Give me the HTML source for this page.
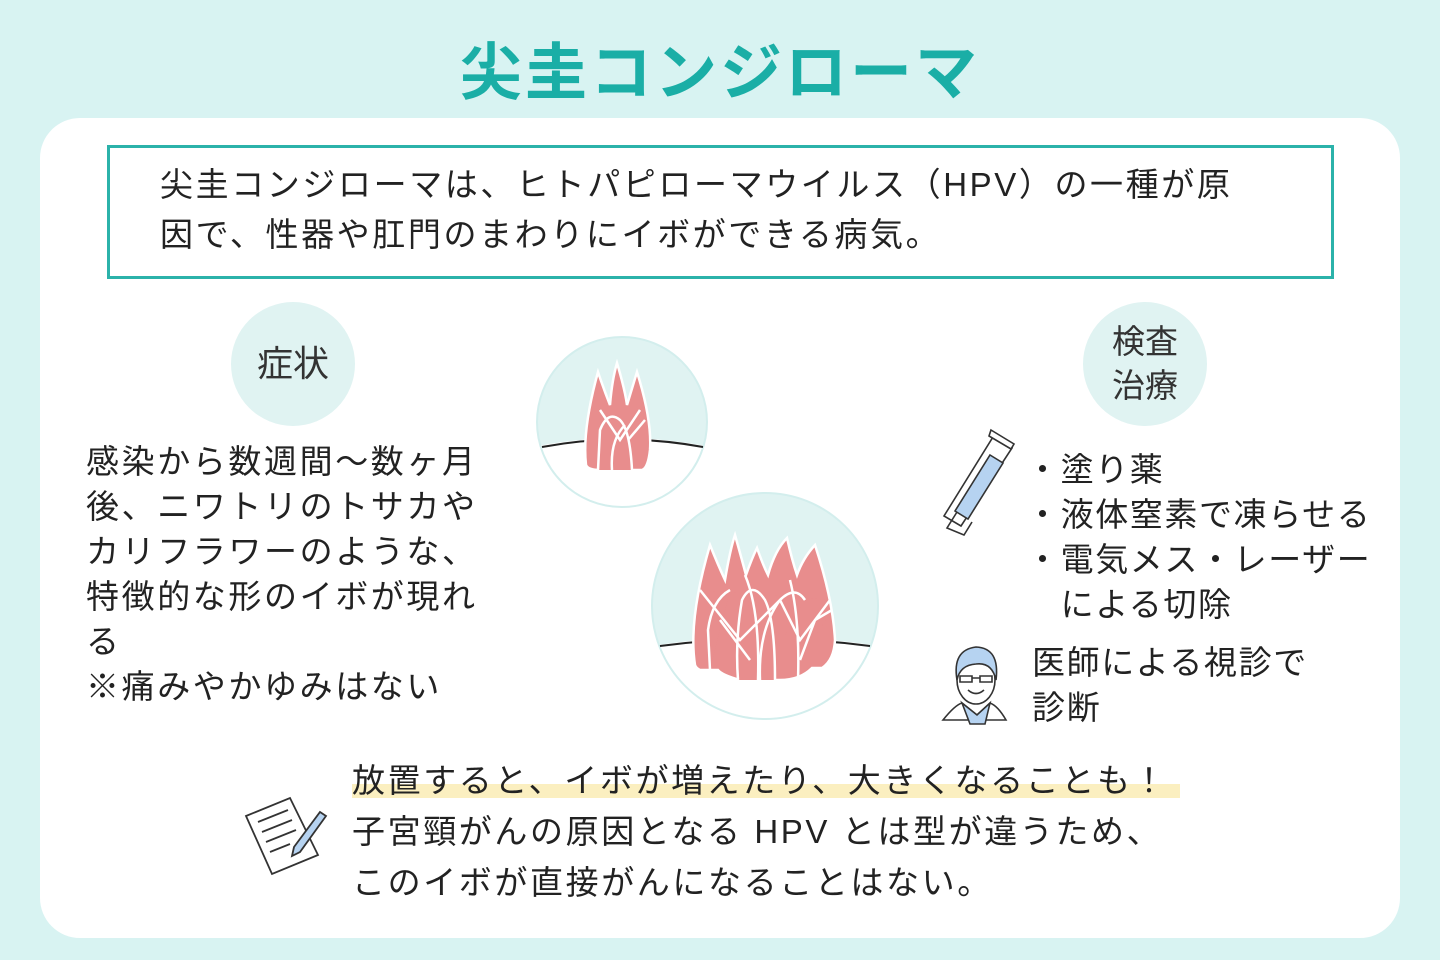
<!DOCTYPE html>
<html><head><meta charset="utf-8"><style>
body{margin:0;width:1440px;height:960px;background:#d8f3f2;position:relative;overflow:hidden;font-family:"Liberation Sans","Noto Sans CJK JP",sans-serif;color:#222}
.t{position:absolute;white-space:nowrap}
.title{left:0;width:1440px;text-align:center;top:22px;font-size:62px;font-weight:bold;color:#1aaea6;letter-spacing:3px}
.panel{position:absolute;left:40px;top:118px;width:1360px;height:820px;background:#fff;border-radius:40px}
.box{position:absolute;left:107px;top:145px;width:1221px;height:128px;border:3px solid #2bb2aa}
.circ{position:absolute;border-radius:50%;background:#e0f3f2;text-align:center;color:#333}
.body{font-size:33px;line-height:45px;letter-spacing:2.6px}
</style></head><body>
<div class="t title">尖圭コンジローマ</div>
<div class="panel"></div>
<div class="box"></div>
<div class="t body" style="left:160px;top:160px;line-height:50px">尖圭コンジローマは、ヒトパピローマウイルス（HPV）の一種が原<br>因で、性器や肛門のまわりにイボができる病気。</div>
<div class="circ" style="left:231px;top:302px;width:124px;height:124px;font-size:36px;line-height:124px">症状</div>
<div class="circ" style="left:1083px;top:302px;width:124px;height:124px;font-size:33px;line-height:44px;padding-top:18px;box-sizing:border-box">検査<br>治療</div>
<div class="t body" style="left:86px;top:439px">感染から数週間〜数ヶ月<br>後、ニワトリのトサカや<br>カリフラワーのような、<br>特徴的な形のイボが現れ<br>る<br>※痛みやかゆみはない</div>
<div class="t body" style="left:1026px;top:447px;letter-spacing:1.6px">・塗り薬<br>・液体窒素で凍らせる<br>・電気メス・レーザー<br>　による切除</div>
<div class="t body" style="left:1032px;top:640px;letter-spacing:1.6px">医師による視診で<br>診断</div>
<div style="position:absolute;left:352px;top:784px;width:828px;height:14px;background:#fbefc0"></div>
<div class="t body" style="left:352px;top:755px;line-height:51px">放置すると、イボが増えたり、大きくなることも！<br>子宮頸がんの原因となる HPV とは型が違うため、<br>このイボが直接がんになることはない。</div>
<svg style="position:absolute;left:0;top:0" width="1440" height="960">
<defs><clipPath id="c1"><circle cx="622" cy="422" r="84"/></clipPath><clipPath id="c2"><circle cx="765" cy="606" r="112"/></clipPath></defs>
<circle cx="622" cy="422" r="85" fill="#e0f3f2" stroke="#d3eeed" stroke-width="2"/>
<path d="M538 446 Q622 430 706 446 L706 520 L538 520Z" fill="#fff" clip-path="url(#c1)"/>
<path d="M542 447 Q622 432 703 447" stroke="#222" stroke-width="2" fill="none"/>
<g fill="#e88d8d" stroke="#fff" stroke-width="2.5">
<path d="M586 465 Q582 430 598 372 Q604 390 610 405 Q612 380 617 363 Q625 390 627 405 Q633 385 637 372 Q652 420 650 450 Q648 468 642 470 L600 470 Q588 470 586 465Z"/>
<path d="M598 470 L600 430 Q608 410 620 420 Q630 430 632 470 M612 470 Q610 440 625 425 M600 410 L620 440 L640 410 M628 440 L645 420"/>
</g>
<circle cx="765" cy="606" r="113" fill="#e0f3f2" stroke="#d3eeed" stroke-width="2"/>
<path d="M652 646 Q765 628 878 646 L878 720 L652 720Z" fill="#fff" clip-path="url(#c2)"/>
<path d="M660 646 Q765 632 870 646" stroke="#222" stroke-width="2" fill="none"/>
<g fill="#e88d8d" stroke="#fff" stroke-width="2.5">
<path d="M695 665 Q688 620 710 545 Q718 565 725 580 Q730 550 735 535 Q742 560 746 575 Q752 558 757 548 Q763 565 768 575 Q775 550 787 538 Q792 560 797 575 Q803 558 815 545 Q833 600 835 640 Q834 660 822 668 L812 668 Q800 680 780 680 L740 680 Q722 675 718 670 L700 670 Q696 668 695 665Z"/>
<path d="M710 670 L708 630 Q712 600 730 590 M738 680 Q735 640 742 600 Q752 580 765 600 Q775 620 775 680 M760 680 Q758 630 780 600 Q795 585 805 600 M700 590 L740 640 L780 600 L800 640 L830 600 M720 620 L750 660 M800 660 L815 620 L832 610 M745 575 Q760 610 758 680 M790 580 Q800 620 798 680"/>
</g>
<g stroke="#333" stroke-width="1.6" fill="none">
<path d="M993 437 L1012 448 L961 526 L944 516Z" fill="#fff"/>
<path d="M990 455 L1003 463 L968 519 L955 511Z" fill="#b6d3f1"/>
<path d="M957 512 L947 528 L964 535 L972 522"/>
<path d="M991 430 L1014 444 L1011 449 L989 436Z" fill="#fff"/>
</g>
<g stroke="#333" stroke-width="1.6">
<path d="M943 720 Q955 705 962 703 L977 715 L990 703 Q998 706 1006 720Z" fill="#fff"/>
<path d="M962 703 L970 724 L985 724 L990 703 L977 715Z" fill="#b6d3f1"/>
<ellipse cx="976" cy="680" rx="19" ry="24" fill="#fff"/>
<path d="M957 680 Q952 650 976 647 Q1000 648 996 680 Q992 662 976 664 Q960 665 957 680Z" fill="#b6d3f1"/>
<path d="M960 676 h12 v6 h-12z M980 676 h12 v6 h-12z M972 678 h8" fill="none"/>
<path d="M968 690 Q976 697 984 690" fill="none"/>
</g>
<g stroke="#333" stroke-width="1.8" fill="#fff">
<path d="M246 816 L290 798 L318 855 L272 874Z"/>
<path d="M258 822 L288 810 M262 832 L292 820 M266 842 L296 830 M270 852 L290 844" fill="none"/>
<path d="M320 812 L326 816 L300 852 L292 856 L294 847Z" fill="#b6d3f1"/>
</g>
</svg>
</body></html>
